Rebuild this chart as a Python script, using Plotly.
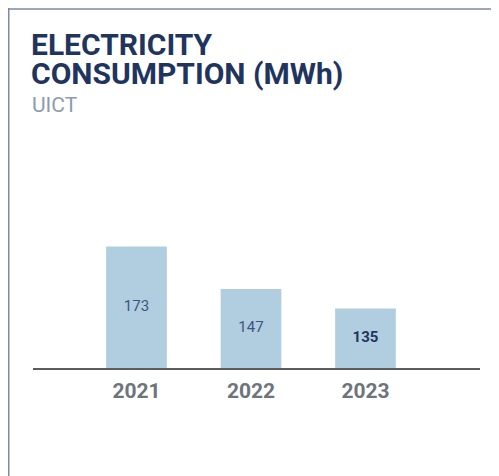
import plotly.graph_objects as go

years = ["2021", "2022", "2023"]
mwh = [173, 147, 135]
labels = ["173", "147", "<b>135</b>"]
label_colors = ["#3e5580", "#3e5580", "#1f355e"]

# page body adds 8px margin, so figure is drawn at an (8, 8) offset
W, H = 491, 468
L, R, T, B = 25, 19, 122, 108
pw, ph = W - L - R, H - T - B
y_min, y_max = 98.5, 244.5


def px_x(x):
    return (x - L) / pw


def px_y(y):
    return (H - B - y) / ph


fig = go.Figure()
fig.add_trace(
    go.Bar(
        x=years,
        y=mwh,
        marker=dict(color="#b1cde0", line=dict(width=0)),
        width=0.53,
        hoverinfo="skip",
    )
)
# value labels at the middle of the visible part of each bar
fig.add_trace(
    go.Scatter(
        x=years,
        y=[(v + y_min) / 2 for v in mwh],
        mode="text",
        text=labels,
        textfont=dict(family="Roboto", size=15, color=label_colors),
        hoverinfo="skip",
    )
)

fig.update_layout(
    width=W,
    height=H,
    margin=dict(l=L, r=R, t=T, b=B),
    paper_bgcolor="white",
    plot_bgcolor="white",
    showlegend=False,
    xaxis=dict(
        type="category",
        range=[-0.904, 3.0],
        showline=True,
        linecolor="#5c5c5c",
        linewidth=1.5,
        showgrid=False,
        ticks="",
        ticklabelstandoff=3,
        tickfont=dict(family="Roboto", size=21, color="#6e747c", weight="bold"),
        fixedrange=True,
    ),
    yaxis=dict(
        range=[y_min, y_max],
        visible=False,
        showgrid=False,
        fixedrange=True,
    ),
    annotations=[
        dict(
            text="ELECTRICITY",
            xref="paper", yref="paper",
            x=px_x(21), y=px_y(17),
            xanchor="left", yanchor="top", align="left",
            showarrow=False,
            font=dict(family="Roboto", size=30, color="#1f355e", weight="bold"),
        ),
        dict(
            text="CONSUMPTION (MWh)",
            xref="paper", yref="paper",
            x=px_x(21), y=px_y(46),
            xanchor="left", yanchor="top", align="left",
            showarrow=False,
            font=dict(family="Roboto", size=30, color="#1f355e", weight="bold"),
        ),
        dict(
            text="UICT",
            xref="paper", yref="paper",
            x=px_x(22), y=px_y(83),
            xanchor="left", yanchor="top", align="left",
            showarrow=False,
            font=dict(family="Roboto", size=21, color="#8d9ab0"),
        ),
    ],
    shapes=[
        dict(type="line", xref="paper", yref="paper",
             x0=px_x(0), x1=px_x(W + 2), y0=px_y(1), y1=px_y(1),
             line=dict(color="#7d8aa0", width=1.5)),
        dict(type="line", xref="paper", yref="paper",
             x0=px_x(0.75), x1=px_x(0.75), y0=px_y(0), y1=px_y(H + 2),
             line=dict(color="#7d8aa0", width=1.5)),
    ],
)

fig.write_html("out.html")
